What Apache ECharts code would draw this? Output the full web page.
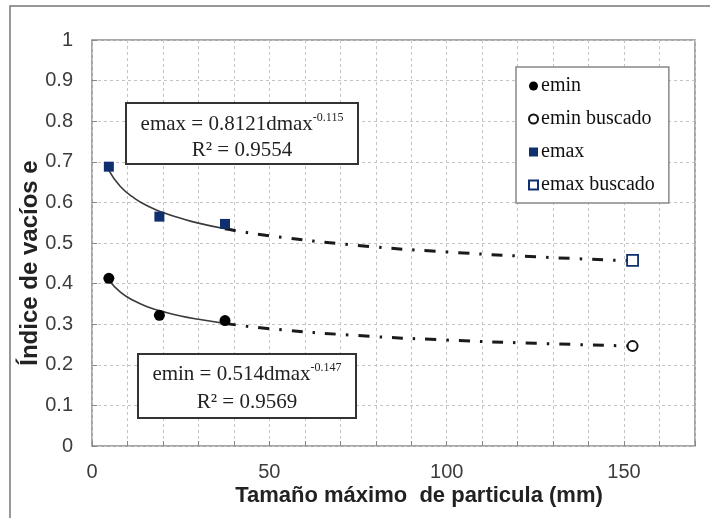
<!DOCTYPE html>
<html style="height: 100%">

<head>
  <meta charset="utf-8">
</head>

<body style="height: 100%; margin: 0; background: #fff">
  <div id="container" style="width: 710px; height: 518px"></div>
  <script type="text/javascript" src="https://cdn.jsdelivr.net/npm/echarts@6/dist/echarts.min.js"></script>
  <script type="text/javascript">
  var dom = document.getElementById("container");
  var myChart = echarts.init(dom);

  // measured points: [dmax (mm), e]
  var eminPts = [[4.75, 0.413], [19, 0.322], [37.5, 0.309]];
  var eminBuscado = [[152.4, 0.246]];
  var emaxPts = [[4.75, 0.688], [19, 0.565], [37.5, 0.547]];
  var emaxBuscado = [[152.4, 0.457]];

  // trend curves
  var eminTrendSolid = [[4.75, 0.409], [8, 0.379], [12, 0.357], [16, 0.342], [20, 0.331], [25, 0.320], [30, 0.312], [37.5, 0.302]];
  var eminTrendDash = [[37.5, 0.302], [50, 0.289], [75, 0.272], [100, 0.261], [125, 0.253], [152.4, 0.246]];
  var emaxTrendSolid = [[4.75, 0.679], [8, 0.639], [12, 0.610], [16, 0.590], [20, 0.575], [25, 0.561], [30, 0.549], [37.5, 0.535]];
  var emaxTrendDash = [[37.5, 0.535], [50, 0.518], [75, 0.494], [100, 0.478], [125, 0.466], [152.4, 0.456]];

  var xLabels = [0, 50, 100, 150];

  var serif = 'Liberation Serif';
  var sans = 'Liberation Sans';
  var navy = '#0f2f6e';

  function trend(data, dashed) {
    return {
      type: 'line',
      data: data,
      smooth: true,
      showSymbol: false,
      silent: true,
      z: 1,
      lineStyle: dashed ? {
        color: '#1a1a1a', width: 3, type: [11, 10, 2.5, 10]
      } : {
        color: '#3a3a3a', width: 1.6
      }
    };
  }

  var option = {
    animation: false,
    textStyle: { fontFamily: sans },
    grid: {
      left: 92, top: 40, right: 15, bottom: 72,
      show: true, borderColor: '#8a8a8a', borderWidth: 1.5, backgroundColor: '#fff'
    },
    legend: {
      orient: 'vertical',
      left: 516, top: 67,
      padding: [9, 14, 8, 12],
      itemWidth: 9, itemHeight: 9, itemGap: 13,
      backgroundColor: '#fff',
      borderColor: '#888', borderWidth: 1.5,
      textStyle: { fontFamily: serif, fontSize: 20, color: '#111', padding: [0, 0, 0, -2] },
      data: ['emin', 'emin buscado', 'emax', 'emax buscado']
    },
    xAxis: {
      type: 'value', min: 0, max: 170, interval: 10,
      axisLine: { show: false },
      axisTick: { inside: true, length: 5, lineStyle: { color: '#888' } },
      axisLabel: {
        margin: 16, fontSize: 20, color: '#3c3c3c',
        formatter: function (v) { return xLabels.indexOf(v) >= 0 ? String(v) : ''; }
      },
      splitLine: { lineStyle: { color: '#c4c4c4', type: [3, 3] } }
    },
    yAxis: {
      type: 'value', min: 0, max: 1, interval: 0.1,
      axisLine: { show: false },
      axisTick: { inside: true, length: 5, lineStyle: { color: '#888' } },
      axisLabel: { margin: 19, fontSize: 20, color: '#3c3c3c' },
      splitLine: { lineStyle: { color: '#c4c4c4', type: [3, 3] } }
    },
    graphic: [
      {
        type: 'rect', silent: true, z: -10,
        shape: { x: 10, y: 6, width: 720, height: 530 },
        style: { fill: 'none', stroke: '#777', lineWidth: 1.5 }
      },
      {
        type: 'text', silent: true,
        x: 30, y: 263, rotation: Math.PI / 2,
        style: {
          text: 'Índice de vacíos e', fontFamily: sans, fontWeight: 'bold', fontSize: 24,
          fill: '#222', align: 'center', verticalAlign: 'middle'
        }
      },
      {
        type: 'text', silent: true,
        x: 419, y: 496,
        style: {
          text: 'Tamaño máximo  de particula (mm)', fontFamily: sans, fontWeight: 'bold', fontSize: 22,
          fill: '#222', align: 'center', verticalAlign: 'middle'
        }
      },
      // emax equation box
      {
        type: 'rect', silent: true, z: 50,
        shape: { x: 126, y: 103, width: 232, height: 61 },
        style: { fill: '#fff', stroke: '#333', lineWidth: 2 }
      },
      {
        type: 'text', silent: true, z: 51,
        x: 242, y: 124,
        style: {
          text: '{b|emax = 0.8121dmax}{s|-0.115}',
          align: 'center', verticalAlign: 'middle',
          rich: {
            b: { fontFamily: serif, fontSize: 21, fill: '#222' },
            s: { fontFamily: serif, fontSize: 12, fill: '#222', padding: [0, 0, 12, 0] }
          }
        }
      },
      {
        type: 'text', silent: true, z: 51,
        x: 242, y: 150,
        style: {
          text: 'R² = 0.9554', fontFamily: serif, fontSize: 21, fill: '#222',
          align: 'center', verticalAlign: 'middle'
        }
      },
      // emin equation box
      {
        type: 'rect', silent: true, z: 50,
        shape: { x: 138, y: 354, width: 218, height: 64 },
        style: { fill: '#fff', stroke: '#333', lineWidth: 2 }
      },
      {
        type: 'text', silent: true, z: 51,
        x: 247, y: 374,
        style: {
          text: '{b|emin = 0.514dmax}{s|-0.147}',
          align: 'center', verticalAlign: 'middle',
          rich: {
            b: { fontFamily: serif, fontSize: 21, fill: '#222' },
            s: { fontFamily: serif, fontSize: 12, fill: '#222', padding: [0, 0, 12, 0] }
          }
        }
      },
      {
        type: 'text', silent: true, z: 51,
        x: 247, y: 402,
        style: {
          text: 'R² = 0.9569', fontFamily: serif, fontSize: 21, fill: '#222',
          align: 'center', verticalAlign: 'middle'
        }
      }
    ],
    series: [
      trend(eminTrendSolid, false),
      trend(eminTrendDash, true),
      trend(emaxTrendSolid, false),
      trend(emaxTrendDash, true),
      {
        name: 'emin', type: 'scatter', data: eminPts, z: 5,
        symbol: 'circle', symbolSize: 11,
        itemStyle: { color: '#000', opacity: 1 }
      },
      {
        name: 'emin buscado', type: 'scatter', data: eminBuscado, z: 5,
        symbol: 'circle', symbolSize: 10,
        itemStyle: { color: '#fff', borderColor: '#111', borderWidth: 2, opacity: 1 }
      },
      {
        name: 'emax', type: 'scatter', data: emaxPts, z: 5,
        symbol: 'rect', symbolSize: 10,
        itemStyle: { color: navy, opacity: 1 }
      },
      {
        name: 'emax buscado', type: 'scatter', data: emaxBuscado, z: 5,
        symbol: 'rect', symbolSize: 11,
        itemStyle: { color: '#fff', borderColor: navy, borderWidth: 1.8, opacity: 1 }
      }
    ]
  };

  myChart.setOption(option);
  </script>
</body>

</html>
